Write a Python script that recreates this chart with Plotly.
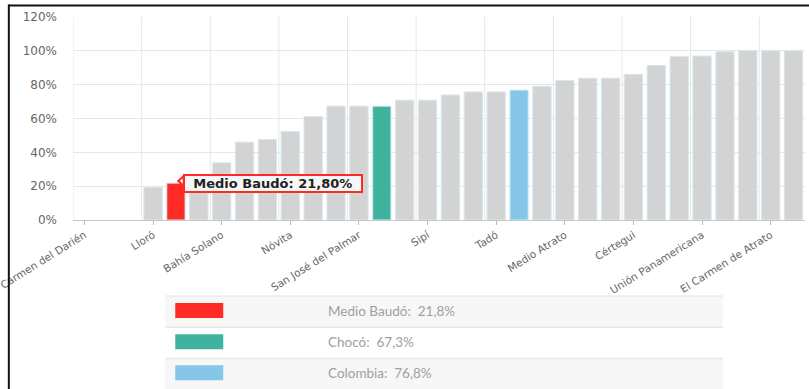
import plotly.graph_objects as go

# ---------------- data ----------------
categories = [
    "El Carmen del Darién", "Cat 2", "Cat 3", "Lloró", "Medio Baudó", "Cat 6",
    "Bahía Solano", "Cat 8", "Cat 9", "Nóvita", "Cat 11", "Cat 12",
    "San José del Palmar", "Chocó", "Cat 15", "Sipí", "Cat 17", "Cat 18",
    "Tadó", "Colombia", "Cat 21", "Medio Atrato", "Cat 23", "Cat 24",
    "Cértegui", "Cat 26", "Cat 27", "Unión Panamericana", "Cat 29", "Cat 30",
    "El Carmen de Atrato", "Cat 32",
]
values = [
    0.0, 0.0, 0.0, 19.3, 21.8, 24.0,
    33.8, 46.0, 47.6, 52.3, 61.2, 67.3,
    67.3, 67.3, 70.8, 70.8, 73.9, 75.7,
    75.7, 76.8, 79.1, 82.5, 83.8, 83.8,
    86.1, 91.3, 96.6, 96.9, 99.5, 100.0,
    100.0, 100.0,
]
highlight = {"Medio Baudó": "#ff2a23", "Chocó": "#3fb39d", "Colombia": "#86c6e8"}
base_color = "#d3d3d3"

tick_every = 3
y_ticks = [0, 20, 40, 60, 80, 100, 120]
y_tick_labels = ["0%", "20%", "40%", "60%", "80%", "100%", "120%"]

legend_names = ["Medio Baudó", "Chocó", "Colombia"]
legend_values = ["21,8%", "67,3%", "76,8%"]
tooltip_name = "Medio Baudó"
tooltip_value = "21,80%"

# ---------------- figure ----------------
W, H = 809, 389
L, R, T, B = 72.7, 4, 17, 169
pw, ph = W - L - R, H - T - B

def px_x(p):
    return (p - L) / pw

def px_y(p):
    return (H - B - p) / ph

n = len(categories)
idx = list(range(n))
colors = [highlight.get(c, base_color) for c in categories]
line_w = [1 if v > 0 else 0 for v in values]

fig = go.Figure()
fig.add_trace(go.Bar(
    x=idx, y=values, width=0.8,
    marker=dict(color=colors, line=dict(color="#d4e8f2", width=line_w)),
    hoverinfo="skip",
))

shapes = []
# vertical grid lines at category boundaries (every 3rd)
for k in range(0, n, tick_every):
    shapes.append(dict(type="line", xref="x", yref="paper", x0=k - 0.5, x1=k - 0.5,
                       y0=0, y1=1, line=dict(color="#e6e6e6", width=1), layer="below"))

# legend table
leg_x0, leg_x1 = px_x(165), px_x(723)
row_tops = [296, 327.3, 358.3, 389.5]
for i, name in enumerate(legend_names):
    top, bot = row_tops[i], row_tops[i + 1]
    if i % 2 == 0:
        shapes.append(dict(type="rect", xref="paper", yref="paper",
                           x0=leg_x0, x1=leg_x1, y0=px_y(bot), y1=px_y(top),
                           fillcolor="#f7f7f7", line=dict(width=0), layer="below"))
    shapes.append(dict(type="line", xref="paper", yref="paper",
                       x0=leg_x0, x1=leg_x1, y0=px_y(top), y1=px_y(top),
                       line=dict(color="#e2e2e2", width=1)))
    shapes.append(dict(type="rect", xref="paper", yref="paper",
                       x0=px_x(175), x1=px_x(223), y0=px_y(top + 22), y1=px_y(top + 7),
                       fillcolor=highlight[name], line=dict(width=0)))

# tooltip notch
shapes.append(dict(type="path", xref="paper", yref="paper",
                   path=f"M {px_x(183.5)} {px_y(176)} L {px_x(178)} {px_y(181)} L {px_x(183.5)} {px_y(186)} Z",
                   fillcolor="#f7f7f7", line=dict(color="#ff2a23", width=2)))

# frame
shapes.append(dict(type="line", xref="paper", yref="paper", x0=px_x(8), x1=px_x(812),
                   y0=px_y(5.5), y1=px_y(5.5), line=dict(color="#111111", width=2)))
shapes.append(dict(type="line", xref="paper", yref="paper", x0=px_x(8.5), x1=px_x(8.5),
                   y0=px_y(4.5), y1=px_y(392), line=dict(color="#111111", width=2)))

annotations = []
for i, name in enumerate(legend_names):
    top = row_tops[i]
    annotations.append(dict(xref="paper", yref="paper", x=px_x(326), y=px_y(top + 15),
                            xanchor="left", yanchor="middle", showarrow=False,
                            text=f"{name}:&nbsp;&nbsp;{legend_values[i]}",
                            font=dict(family="Lato, sans-serif", size=13.5, color="#a0a0a0")))

annotations.append(dict(xref="paper", yref="paper", x=px_x(183), y=px_y(183),
                        xanchor="left", yanchor="middle", showarrow=False,
                        text=f"&nbsp;&nbsp;<b>{tooltip_name}: {tooltip_value}</b>&nbsp;&nbsp;",
                        font=dict(family="DejaVu Sans, sans-serif", size=13, color="#222"),
                        bgcolor="#f7f7f7", bordercolor="#ff2a23", borderwidth=2, borderpad=0))

tickvals = list(range(0, n, tick_every))
fig.update_layout(
    width=W, height=H,
    margin=dict(l=L, r=R, t=T, b=B, pad=0, autoexpand=False),
    paper_bgcolor="white", plot_bgcolor="white",
    showlegend=False, bargap=0.2,
    font=dict(family="DejaVu Sans, sans-serif", color="#666"),
    xaxis=dict(range=[-0.5, n - 0.5], tickmode="array", tickvals=tickvals,
               ticktext=[categories[k] for k in tickvals], automargin=False,
               ticklabeloverflow="allow",
               tickangle=-32, ticks="outside", ticklen=4, tickcolor="#bbbbbb",
               showgrid=False, zeroline=False, showline=True, linecolor="#c8c8c8",
               tickfont=dict(size=10.5, color="#666")),
    yaxis=dict(range=[0, 120], tickmode="array", tickvals=y_ticks, ticktext=y_tick_labels,
               showgrid=True, gridcolor="#e6e6e6", zeroline=False, ticks="", automargin=False,
               tickfont=dict(size=12, color="#666"), ticklabelstandoff=15),
    shapes=shapes, annotations=annotations,
)

fig.write_html(
    "out.html",
    config={"displayModeBar": False},
    post_script="document.body.style.margin='0';document.body.style.overflow='hidden';",
)
